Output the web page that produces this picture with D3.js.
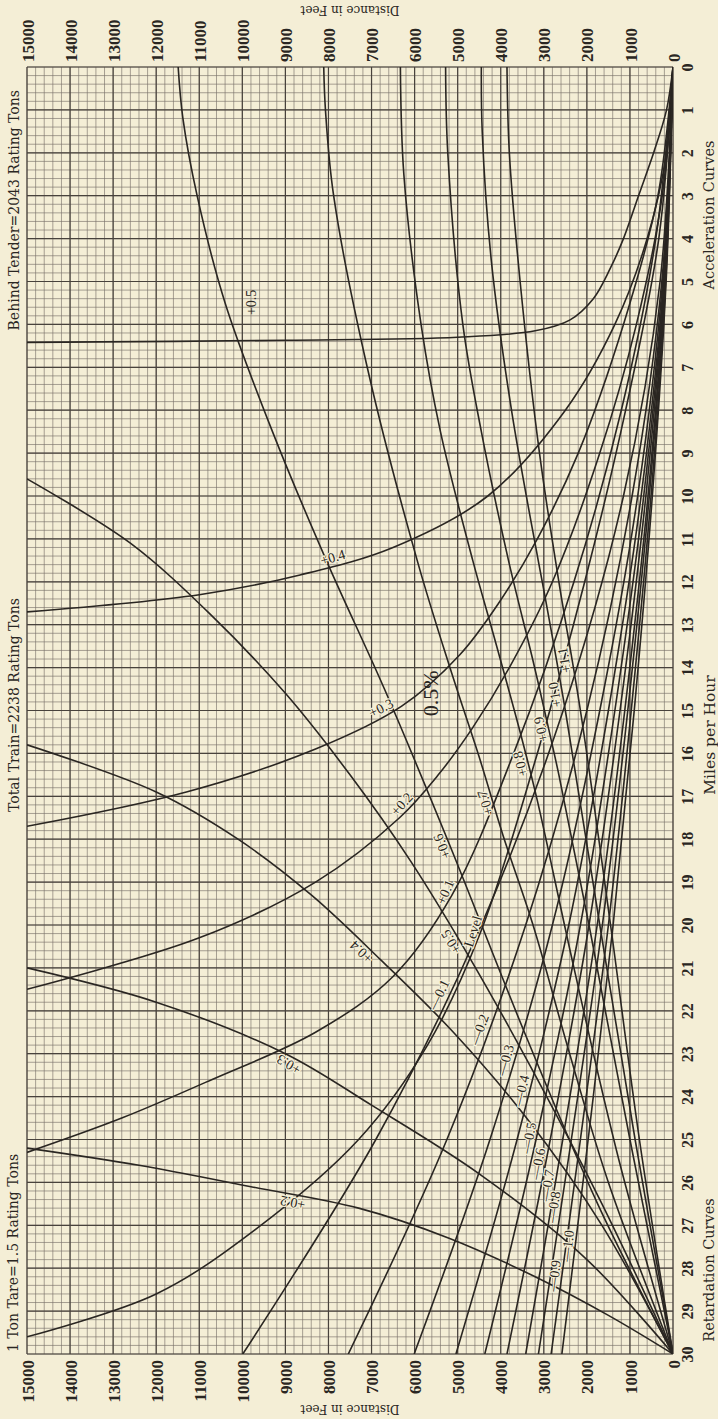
<!DOCTYPE html>
<html><head><meta charset="utf-8">
<script src="https://cdn.jsdelivr.net/npm/d3@7"></script>
<style>body{margin:0;background:#f4eed6;} svg{display:block}</style>
</head><body><svg id="c" width="718" height="1419"></svg>
<script>
// ---------- data ----------
const distTicks = [0,1000,2000,3000,4000,5000,6000,7000,8000,9000,10000,11000,12000,13000,14000,15000];
const speedTicks = [0,1,2,3,4,5,6,7,8,9,10,11,12,13,14,15,16,17,18,19,20,21,22,23,24,25,26,27,28,29,30];
// acceleration curves (start 0 mph, 0 ft): [mph, feet]
const accP05 = [[0,0],[1,150],[2,450],[3,800],[4,1150],[4.7,1460],[5.4,1850],[5.9,2400],[6.15,3200],[6.3,5000],[6.37,9000],[6.42,15000]];
const accP04 = [[0,0],[2,150],[4,600],[6,1350],[8,2500],[10,4300],[11.2,6500],[11.84,8660],[12.3,11000],[12.7,15000]];
const accP03 = [[0,0],[3,350],[6,1150],[9,2200],[11,3150],[12.5,4050],[13.7,4950],[14.9,6300],[15.9,8300],[16.9,11300],[17.7,15000]];
const accP02 = [[0,0],[3,250],[6,850],[9,1700],[12,2800],[14,3800],[15.4,4650],[16.5,5450],[17.5,6350],[19.0,8300],[20.3,11000],[21.5,15000]];
const accP01 = [[0,0],[4,400],[8,1200],[12,2300],[16,3700],[19.3,5130],[21.2,6500],[22.5,8300],[23.6,10700],[24.5,12800],[25.3,15000]];
const accLevel = [[0,0],[4,330],[8,1100],[12,2050],[16,3150],[20.2,4480],[22.8,5700],[25,7300],[27.1,9700],[28.6,12000],[29.6,15000]];
const accM01 = [[0,0],[5,300],[10,1150],[15,2550],[20,4450],[25,6900],[30,9990]];
const accM02 = [[0,0],[5,260],[10,950],[15,2000],[20,3420],[25,5250],[30,7540]];
const accM03 = [[0,0],[5,240],[10,820],[15,1700],[20,2800],[25,4250],[30,6010]];
const accM04 = [[0,0],[5,220],[10,740],[15,1500],[20,2420],[25,3620],[30,5040]];
const accM05 = [[0,0],[5,210],[10,680],[15,1350],[20,2150],[25,3180],[30,4370]];
const accM06 = [[0,0],[5,200],[10,630],[15,1230],[20,1950],[25,2850],[30,3855]];
const accM07 = [[0,0],[5,190],[10,580],[15,1120],[20,1760],[25,2560],[30,3420]];
const accM08 = [[0,0],[5,180],[10,550],[15,1050],[20,1640],[25,2360],[30,3125]];
const accM09 = [[0,0],[5,170],[10,510],[15,970],[20,1500],[25,2150],[30,2830]];
const accM10 = [[0,0],[5,160],[10,480],[15,900],[20,1390],[25,1970],[30,2580]];
// retardation curves (start 30 mph, 0 ft): [mph, feet]
const retP02 = [[30,0],[29.1,1500],[28.2,3200],[27.3,5200],[26.6,7300],[26.1,9800],[25.6,12400],[25.2,15000]];
const retP03 = [[30,0],[27.8,2000],[25.8,4500],[24.2,7000],[23.0,9000],[21.8,12000],[21.0,15000]];
const retP04 = [[30,0],[27,1650],[24.5,3400],[22.5,5100],[20.8,6800],[19.3,8400],[18,10100],[16.9,12000],[15.8,15000]];
const retP05 = [[30,0],[26.5,1650],[23.5,3200],[20.8,4700],[18.5,6100],[16.5,7500],[14.6,9000],[12.8,10700],[11.1,12600],[9.6,15000]];
const retP06 = [[30,0],[26.5,1750],[22.5,3450],[18.1,5200],[14.5,6700],[11.5,8050],[8.5,9300],[5.5,10400],[3,11050],[1.2,11380],[0,11490]];
const retP07 = [[30,0],[26,1500],[23,2400],[20,3250],[17.9,3950],[16.15,4480],[14,5180],[11.5,5940],[7,7100],[3,7880],[1,8070],[0,8110]];
const retP08 = [[30,0],[25.5,1250],[21,2300],[17.1,3150],[15.5,3550],[13.3,4150],[11.5,4650],[8.5,5400],[6,5850],[2.5,6250],[0,6330]];
const retP09 = [[30,0],[25,1000],[20,1950],[16.5,2650],[14.8,3030],[13.8,3260],[11.5,3820],[8.5,4450],[6,4880],[2,5230],[0,5280]];
const retP10 = [[30,0],[25,880],[20,1700],[15,2500],[12.3,2980],[11.5,3130],[8,3750],[4.5,4220],[1.5,4430],[0,4450]];
const retP11 = [[30,0],[25,780],[20,1450],[15,2150],[12,2650],[9,3100],[5,3550],[2,3800],[0,3855]];

const accCurves = [accP05,accP04,accP03,accP02,accP01,accLevel,accM01,accM02,accM03,accM04,accM05,accM06,accM07,accM08,accM09,accM10];
const retCurves = [retP02,retP03,retP04,retP05,retP06,retP07,retP08,retP09,retP10,retP11];
// curve labels: [text, curve, speed at which the label sits]
const curveLabels = [
 ["+0.4",accP04,11.6],["+0.3",accP03,15.1],["+0.2",accP02,17.3],["+0.1",accP01,19.3],["Level",accLevel,20.2],
 ["—0.1",accM01,21.7],["—0.2",accM02,22.5],["—0.3",accM03,23.2],["—0.4",accM04,23.9],["—0.5",accM05,25.0],
 ["—0.6",accM06,25.6],["—0.7",accM07,26.1],["—0.8",accM08,26.6],["—0.9",accM09,28.2],["—1.0",accM10,27.5],
 ["+0.2",retP02,26.3],["+0.3",retP03,23.1],["+0.4",retP04,20.5],["+0.5",retP05,20.3],["+0.6",retP06,18.1],
 ["+0.7",retP07,17.1],["+0.8",retP08,16.2],["+0.9",retP09,15.4],["+1.0",retP10,14.6],["+1.1",retP11,13.8]
];

// ---------- drawing ----------
const svg = d3.select("#c");
const x = d3.scaleLinear().domain([0,15000]).range([673,27]);
const y = d3.scaleLinear().domain([0,30]).range([67,1354]);
const INK = "#2a2622";
const serif = "'Liberation Serif','DejaVu Serif',serif";
const wide = "'DejaVu Serif','Liberation Serif',serif";
const PAPER = "#f4eed6";

svg.append("rect").attr("width",718).attr("height",1419).attr("fill",PAPER);

const g = svg.append("g");
const minorD = d3.range(0,15001,200), minorS = d3.range(0,30.001,0.2);
g.selectAll(".mv").data(minorD).join("line")
  .attr("x1",d=>x(d)).attr("x2",d=>x(d)).attr("y1",y(0)).attr("y2",y(30))
  .attr("stroke","#7a736b").attr("stroke-width",0.65);
g.selectAll(".mh").data(minorS).join("line")
  .attr("y1",d=>y(d)).attr("y2",d=>y(d)).attr("x1",x(0)).attr("x2",x(15000))
  .attr("stroke","#7a736b").attr("stroke-width",0.65);
g.selectAll(".Mv").data(distTicks).join("line")
  .attr("x1",d=>x(d)).attr("x2",d=>x(d)).attr("y1",y(0)).attr("y2",y(30))
  .attr("stroke","#48423c").attr("stroke-width",1.2);
g.selectAll(".Mh").data(speedTicks).join("line")
  .attr("y1",d=>y(d)).attr("y2",d=>y(d)).attr("x1",x(0)).attr("x2",x(15000))
  .attr("stroke","#48423c").attr("stroke-width",1.2);

svg.append("clipPath").attr("id","plot").append("rect")
  .attr("x",x(15000)).attr("y",y(0)).attr("width",x(0)-x(15000)).attr("height",y(30)-y(0));
const line = d3.line().x(d=>x(d[1])).y(d=>y(d[0])).curve(d3.curveCatmullRom.alpha(0.5));
const cg = svg.append("g").attr("clip-path","url(#plot)");
cg.selectAll(".acc").data(accCurves).join("path").attr("d",line)
  .attr("fill","none").attr("stroke",INK).attr("stroke-width",1.6);
cg.selectAll(".ret").data(retCurves).join("path").attr("d",line)
  .attr("fill","none").attr("stroke",INK).attr("stroke-width",1.6);

// axes
const fmt = d3.format("d");
const axTop = svg.append("g").attr("transform",`translate(0,${y(0)})`)
  .call(d3.axisTop(x).tickValues(distTicks).tickSize(0).tickFormat(fmt));
axTop.select(".domain").remove();
axTop.selectAll("text").attr("transform","translate(0,-5) rotate(-90)").attr("x",0).attr("y",0)
  .attr("dy","0.36em").attr("text-anchor","start")
  .attr("font-family",serif).attr("font-size",17).attr("font-weight","bold").attr("fill",INK);
const axBot = svg.append("g").attr("transform",`translate(0,${y(30)})`)
  .call(d3.axisBottom(x).tickValues(distTicks).tickSize(0).tickFormat(fmt));
axBot.select(".domain").remove();
axBot.selectAll("text").attr("transform","translate(0,6) rotate(-90)").attr("x",0).attr("y",0)
  .attr("dy","0.36em").attr("text-anchor","end")
  .attr("font-family",serif).attr("font-size",17).attr("font-weight","bold").attr("fill",INK);
const axRt = svg.append("g").attr("transform",`translate(${x(0)},0)`)
  .call(d3.axisRight(y).tickValues(speedTicks).tickSize(0).tickFormat(fmt));
axRt.select(".domain").remove();
axRt.selectAll("text").attr("transform","translate(14,0) rotate(-90)").attr("x",0).attr("y",0)
  .attr("dy","0.36em").attr("text-anchor","middle")
  .attr("font-family",serif).attr("font-size",16).attr("font-weight","bold").attr("fill",INK);

function rtext(t,cx,cy,rot,size,anchor,fam){
  return svg.append("text").attr("transform",`translate(${cx},${cy}) rotate(${rot})`)
    .attr("text-anchor",anchor||"middle").attr("dy","0.36em")
    .attr("font-family",fam||wide).attr("font-size",size||14)
    .attr("fill",INK).text(t);
}
rtext("Distance in Feet",350,10,180,12);
rtext("Distance in Feet",350,1409,180,12);
rtext("Acceleration Curves",709,215,-90,14.5);
rtext("Miles per Hour",709,735,-90,15.5);
rtext("Retardation Curves",709,1270,-90,14.5);
rtext("Behind Tender=2043 Rating Tons",14,90,-90,14,"end");
rtext("Total Train=2238 Rating Tons",14,705,-90,14);
rtext("1 Ton Tare=1.5 Rating Tons",13,1352,-90,14,"start");

// labels on curves: position and direction taken from the curve data
function pointAt(curve,s){
  for(let i=0;i<curve.length-1;i++){
    const a=curve[i], b=curve[i+1];
    if((s-a[0])*(s-b[0])<=0 && a[0]!==b[0]){
      const t=(s-a[0])/(b[0]-a[0]);
      const px=x(a[1]+(b[1]-a[1])*t), py=y(s);
      let dx=x(b[1])-x(a[1]), dy=y(b[0])-y(a[0]);
      if(dy>0){dx=-dx;dy=-dy;}
      return [px,py,Math.atan2(dy,dx)*180/Math.PI];
    }
  }
  return null;
}
curveLabels.forEach(l=>{
  const p=pointAt(l[1],l[2]); if(!p) return;
  svg.append("text").attr("transform",`translate(${p[0]},${p[1]}) rotate(${p[2]})`)
    .attr("text-anchor","middle").attr("dy","-0.2em")
    .attr("font-family",serif).attr("font-size",14).attr("fill",INK)
    .attr("stroke",PAPER).attr("stroke-width",2.5).attr("paint-order","stroke").text(l[0]);
});
// +0.5 acceleration label sits above its flat asymptote
rtext("+0.5", x(9800), y(accP05[accP05.length-1][0])-40, -90, 14, "middle", serif);
rtext("0.5%", x(5640), y(14.6), -90, 22, "middle", serif);
</script></body></html>
